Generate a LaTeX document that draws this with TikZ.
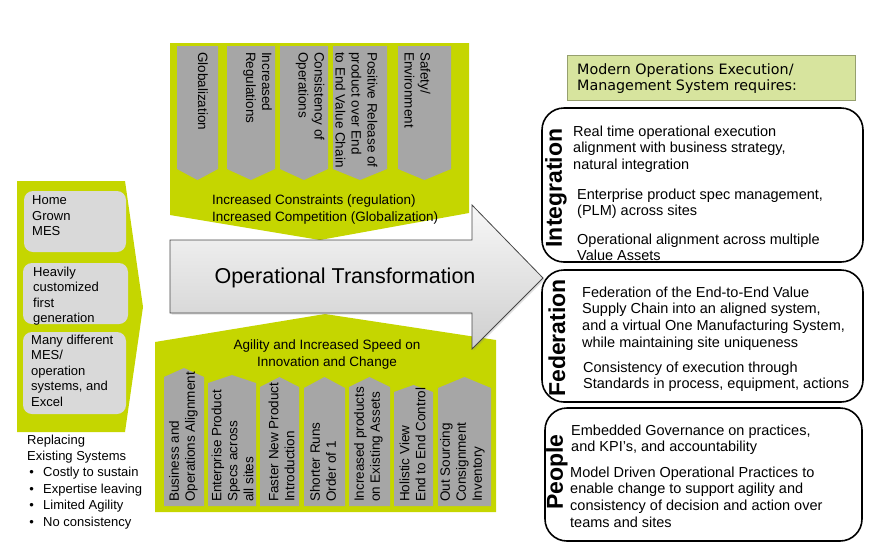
\documentclass[tikz,border=0pt]{standalone}
\usepackage{fontspec}
\setmainfont{Liberation Sans}
\newfontfamily\verdfont{DejaVu Sans}
\usetikzlibrary{shadows}
\definecolor{limeg}{RGB}{197,214,0}
\definecolor{chevg}{RGB}{166,166,166}
\definecolor{lboxg}{RGB}{217,217,217}
\definecolor{hdrfill}{RGB}{215,228,158}
\definecolor{hdrline}{RGB}{150,160,110}
\begin{document}
\begin{tikzpicture}[x=1pt,y=-1pt,
  chevtxt/.style={font=\fontsize{13.5}{16}\selectfont, inner sep=0pt, align=left, anchor=west},
  boxtxt/.style={font=\fontsize{13}{15.5}\selectfont, inner sep=0pt, align=left, anchor=north west},
  rtxt/.style={font=\fontsize{14.5}{16.7}\selectfont, inner sep=0pt, align=left, anchor=north west},
  vlabel/.style={font=\fontsize{23}{23}\selectfont\bfseries, inner sep=0pt, rotate=90},
  reqbox/.style={draw=black, line width=1.6pt, rounded corners=22pt},
  greyrbox/.style={fill=lboxg, rounded corners=9pt},
]
\useasboundingbox (0,0) rectangle (870,558);

% ---------- top green pentagon ----------
\fill[limeg] (170,43) -- (469,43) -- (469,213) -- (320,240) -- (170,215) -- cycle;
% top chevrons
\foreach \a/\b in {177/218, 227/275, 280/328, 333/387, 398/451}{
  \fill[chevg] (\a,46) -- (\b,46) -- (\b,169) -- ({(\a+\b)/2},180) -- (\a,169) -- cycle;
}
\node[chevtxt, rotate=-90] (t1) at (203,52) {Globalization};
\node[chevtxt, rotate=-90] (t2) at (257.5,52) {Increased\\Regulations};
\node[chevtxt, rotate=-90] (t3) at (310,52) {Consistency of\\Operations};
\node[chevtxt, rotate=-90] (t4) at (356.5,52) {Positive Release of\\product over End\\to End Value Chain};
\node[chevtxt, rotate=-90] (t5) at (417.5,52) {Safety/\\Environment};
\node[font=\fontsize{13.5}{17}\selectfont, inner sep=0pt, align=left, anchor=north west] (constr) at (212,194.5)
  {Increased Constraints (regulation)\\Increased Competition (Globalization)};

% ---------- bottom green pentagon ----------
\fill[limeg] (155,512) -- (496,512) -- (496,340) -- (325,314) -- (155,342) -- cycle;
\foreach \a/\b/\p/\s in {164/204/368/377, 208/256/375/383, 260/299/377/387, 304/345/377/388, 349/390/377/387, 394/433/385/392, 438/491/377/388}{
  \fill[chevg] (\a,506) -- (\a,\s) -- ({(\a+\b)/2},\p) -- (\b,\s) -- (\b,506) -- cycle;
}
\node[font=\fontsize{13.5}{17}\selectfont, inner sep=0pt, align=center, anchor=north] (agil) at (327,339.5)
  {Agility and Increased Speed on\\Innovation and Change};
\node[chevtxt, rotate=90] (b1) at (183.5,502) {Business and\\Operations Alignment};
\node[chevtxt, rotate=90] (b2) at (232.5,502) {Enterprise Product\\Specs across\\all sites};
\node[chevtxt, rotate=90] (b3) at (281.5,502) {Faster New Product\\Introduction};
\node[chevtxt, rotate=90] (b4) at (323,502) {Shorter Runs\\Order of 1};
\node[chevtxt, rotate=90] (b5) at (368.5,502) {Increased products\\on Existing Assets};
\node[chevtxt, rotate=90] (b6) at (412.5,502) {Holistic View\\End to End Control};
\node[chevtxt, rotate=90] (b7) at (462.5,502) {Out Sourcing\\Consignment\\Inventory};

% ---------- big arrow ----------
\path[draw=gray!55!black, line width=0.8pt, top color=gray!6, bottom color=gray!38,
  drop shadow={opacity=0.25, shadow xshift=1.5pt, shadow yshift=-1.5pt}]
  (170,240) -- (472,240) -- (472,205) -- (543,278) -- (472,349) -- (472,313) -- (170,313) -- cycle;
\node[font=\fontsize{21.5}{24}\selectfont, inner sep=0pt] (optrans) at (345,278) {Operational Transformation};

% ---------- left green arrow ----------
\fill[limeg] (17,181) -- (125,181) -- (143,307) -- (125,432) -- (17,432) -- cycle;
\fill[greyrbox] (24,191) rectangle (126,252);
\fill[greyrbox] (23,263) rectangle (128,324);
\fill[greyrbox] (23,332) rectangle (126,414);
\node[boxtxt] (l1) at (32,195.5) {Home\\Grown\\MES};
\node[boxtxt] (l2) at (33,266.5) {Heavily\\customized\\first\\generation};
\node[boxtxt] (l3) at (31,334.5) {Many different\\MES/\\operation\\systems, and\\Excel};
\node[font=\fontsize{13}{16.4}\selectfont, inner sep=0pt, align=left, anchor=north west] (repl) at (27,434.5)
  {Replacing\\Existing Systems\\
   \makebox[16pt][l]{\,•}Costly to sustain\\
   \makebox[16pt][l]{\,•}Expertise leaving\\
   \makebox[16pt][l]{\,•}Limited Agility\\
   \makebox[16pt][l]{\,•}No consistency};

% ---------- right side ----------
\node[draw=hdrline, line width=0.8pt, fill=hdrfill, minimum width=288pt, minimum height=45pt, anchor=north west,
  inner sep=0pt] (hdr) at (567,55) {};
\node[font=\verdfont\fontsize{14.3}{16}\selectfont, inner sep=0pt, align=left, anchor=north west] (hdrtxt) at (577,63)
  {Modern Operations Execution/\\Management System requires:};

\draw[reqbox] (542,108) rectangle (863,262);
\draw[reqbox] (542,270) rectangle (863,402);
\draw[reqbox] (545,408) rectangle (862,541);

\node[vlabel] (integ) at (556,188) {Integration};
\node[vlabel] (feder) at (557,338) {Federation};
\node[vlabel] (peop) at (557,472) {People};

\node[rtxt] (i1) at (573,125.5) {Real time operational execution\\alignment with business strategy,\\natural integration};
\node[rtxt] (i2) at (577,188.5) {Enterprise product spec management,\\(PLM) across sites};
\node[rtxt] (i3) at (577,233.5) {Operational alignment across multiple\\Value Assets};
\node[rtxt] (f1) at (582,286.5) {Federation of the End-to-End Value\\Supply Chain into an aligned system,\\and a virtual One Manufacturing System,\\while maintaining site uniqueness};
\node[rtxt] (f2) at (583,361.5) {Consistency of execution through\\Standards in process, equipment, actions};
\node[rtxt] (p1) at (571,424.5) {Embedded Governance on practices,\\and KPI’s, and accountability};
\node[rtxt] (p2) at (570,466.5) {Model Driven Operational Practices to\\enable change to support agility and\\consistency of decision and action over\\teams and sites};
\end{tikzpicture}
\end{document}
